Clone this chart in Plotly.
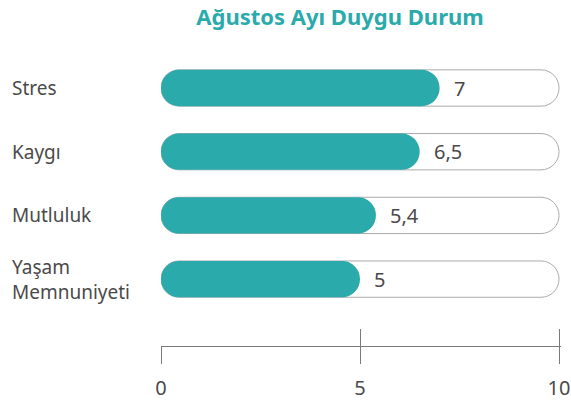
import plotly.graph_objects as go

categories = ["Stres", "Kaygı", "Mutluluk", "Yaşam<br>Memnuniyeti"]
values = [7, 6.5, 5.4, 5]
value_labels = ["7", "6,5", "5,4", "5"]
x_max = 10
tick_vals = [0, 5, 10]
tick_text = ["0", "5", "10"]
title_text = "Ağustos Ayı Duygu Durum"

TEAL = "#2BAAAC"
GRAY_LINE = "#ABABAB"
TEXT = "#4A4A4A"
FONT = "Noto Sans"
BAR_W = 0.57
RADIUS = 18

fig = go.Figure()

# background track (drawn from its end back to zero so both ends get rounded)
fig.add_trace(go.Bar(
    y=categories, x=[-x_max] * len(categories), base=[x_max] * len(categories),
    orientation="h", width=BAR_W,
    marker=dict(color="white", line=dict(color=GRAY_LINE, width=1), cornerradius=RADIUS),
    hoverinfo="skip", showlegend=False))

# teal fill
fig.add_trace(go.Bar(
    y=categories, x=[-v for v in values], base=values, orientation="h", width=BAR_W,
    marker=dict(color=TEAL, line=dict(width=0), cornerradius=RADIUS),
    hoverinfo="skip", showlegend=False))

# value labels
for c, v, t in zip(categories, values, value_labels):
    fig.add_annotation(x=v, y=c, text=t, showarrow=False, xanchor="left", xshift=12,
                       font=dict(family=FONT, size=20, color=TEXT))

# category labels, left aligned
for c in categories:
    fig.add_annotation(x=-(161 - 10) / 400, xref="paper", y=c, yref="y", text=c,
                       showarrow=False, xanchor="left", align="left",
                       font=dict(family=FONT, size=19, color=TEXT))

# second x axis to draw the upward tick halves
fig.add_trace(go.Scatter(x=[0], y=[categories[0]], mode="markers", marker=dict(opacity=0),
                         xaxis="x2", yaxis="y", hoverinfo="skip", showlegend=False))

x_range = [0, 10.05]
fig.update_layout(
    width=571, height=403,
    margin=dict(l=161, r=10, t=45, b=57, autoexpand=False),
    paper_bgcolor="white", plot_bgcolor="white",
    barmode="overlay",
    title=dict(text=f"<b>{title_text}</b>", x=340 / 571, xref="container", xanchor="center",
               y=1 - 17 / 403, yref="container", yanchor="middle",
               font=dict(family=FONT, size=22, color=TEAL)),
    xaxis=dict(range=x_range, tickvals=tick_vals, ticktext=tick_text, showgrid=False,
               zeroline=False, showline=True, linecolor="#7A7A7A", linewidth=1,
               ticks="outside", ticklen=17, tickcolor="#7A7A7A", tickwidth=1,
               ticklabelstandoff=7, automargin=False,
               tickfont=dict(family=FONT, size=20, color=TEXT), fixedrange=True),
    xaxis2=dict(range=x_range, tickvals=tick_vals, showticklabels=False, showgrid=False,
                zeroline=False, overlaying="x", anchor="y", side="bottom",
                ticks="inside", ticklen=17, tickcolor="#7A7A7A", tickwidth=1),
    yaxis=dict(type="category", categoryorder="array", categoryarray=categories,
               range=[4.05, -0.675], showticklabels=False, showgrid=False, zeroline=False,
               showline=False, fixedrange=True),
    showlegend=False,
)

fig.write_html("out.html", config={"displayModeBar": False},
               post_script="document.body.style.margin='0';")
